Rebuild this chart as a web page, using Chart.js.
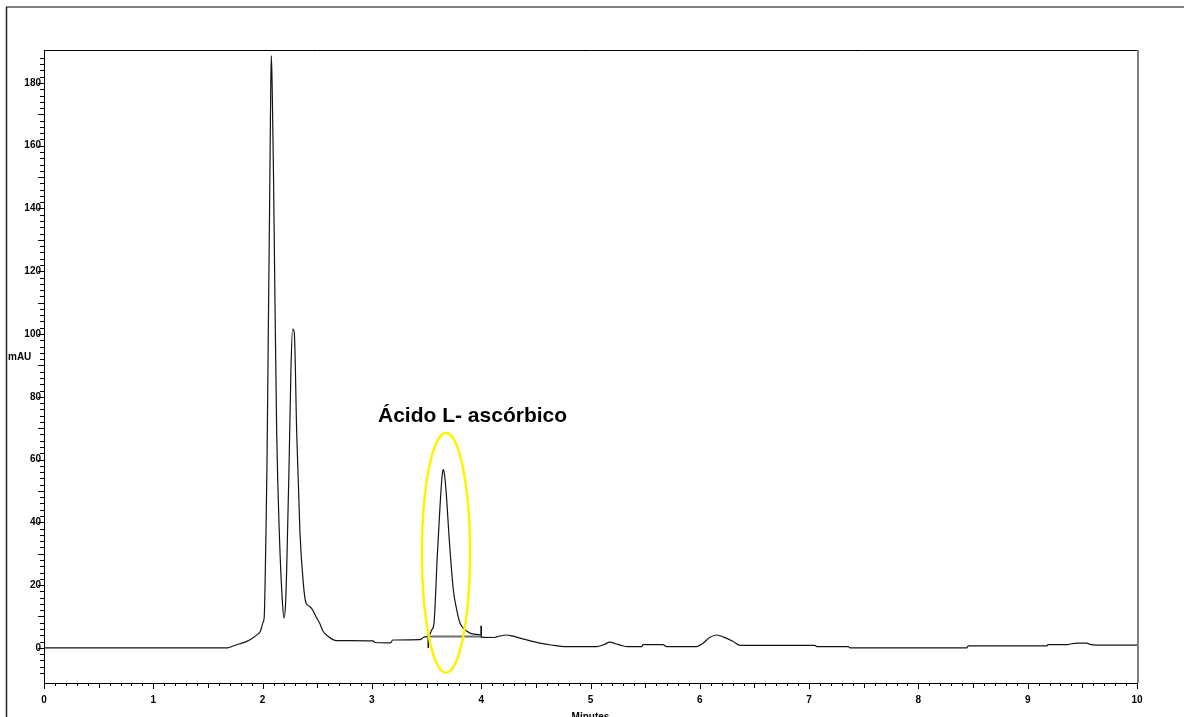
<!DOCTYPE html>
<html>
<head>
<meta charset="utf-8">
<title>Cromatograma</title>
<script src="https://cdn.jsdelivr.net/npm/chart.js@4.4.1/dist/chart.umd.min.js"></script>
<style>
  html, body { margin: 0; padding: 0; background: #fff; }
  canvas { display: block; }
</style>
</head>
<body>
<canvas id="chrom" width="1184" height="717"></canvas>
<script>
// retention time (min) and detector response (mAU)
const retTime = [
    0, 1.68, 1.73, 1.79, 1.85, 1.90, 1.95, 1.98, 2.005, 2.015,
    2.03, 2.04, 2.052, 2.065, 2.075, 2.08, 2.088, 2.100, 2.113, 2.129,
    2.153, 2.180, 2.196, 2.21, 2.221, 2.242, 2.260, 2.275, 2.290, 2.312,
    2.342, 2.372, 2.397, 2.43, 2.46, 2.49, 2.52, 2.555, 2.601,
    2.64, 2.678, 3.01, 3.03, 3.17, 3.19, 3.44, 3.47, 3.50, 3.516,
    3.547, 3.568, 3.598, 3.623, 3.643, 3.653, 3.665, 3.678, 3.708, 3.745,
    3.776, 3.806, 3.836, 3.897, 3.95, 3.99, 4.0, 4.108, 4.15, 4.233,
    4.28, 4.355, 4.45, 4.538, 4.64, 4.782, 5.057, 5.12, 5.178, 5.23,
    5.28, 5.34, 5.47, 5.48, 5.663, 5.697, 5.972, 6.03, 6.09, 6.155,
    6.22, 6.306, 6.368, 7.054, 7.07, 7.359, 7.374, 8.442, 8.457, 9.174,
    9.186, 9.357, 9.40, 9.46, 9.54, 9.57, 9.631, 10
];
const mAU = [
    0, 0, 0.6, 1.3, 2.0, 2.9, 4.2, 5.3, 8.2, 10,
    35, 58, 100, 144, 180, 188.7, 178, 150, 111, 68.5,
    36.6, 15.3, 9.5, 14, 25.9, 57.8, 89.6, 101.6, 100.4, 68.5,
    36.6, 20.7, 14.3, 13.2, 12.0, 9.8, 8.0, 5.2, 3.6,
    2.7, 2.3, 2.2, 1.7, 1.6, 2.5, 2.6, 3.3, 3.6, 3.6,
    5.7, 7.9, 29.1, 45, 55, 56.9, 55, 50.3, 34.4, 18.5,
    12.1, 7.9, 6.3, 4.7, 4.3, 4.1, 3.4, 3.3, 3.6, 4.1,
    3.8, 3.1, 2.2, 1.5, 0.9, 0.4, 0.4, 1.0, 1.8, 1.3,
    0.8, 0.4, 0.4, 1.0, 1.0, 0.4, 0.4, 1.5, 3.3, 4.1,
    3.4, 2.0, 0.8, 0.8, 0.4, 0.4, 0, 0, 0.6, 0.6,
    1.0, 1.0, 1.3, 1.5, 1.5, 1.1, 0.85, 0.85
];

// integration baseline under the ascorbic acid peak, with start/end marks
const baseTime = [3.516, 4.0];
const baseLevel = [3.6, 3.6];
const startMark = [5.2, 0];
const endMark = [7.0, 3.4];

const peakLabel = 'Ácido L- ascórbico';
const labelAt = [3.056, 72];        // min, mAU
const ringCenter = [3.678, 30.3];
const ringRadius = [0.22, 38.2];

const FONT = '"Liberation Sans", Arial, Helvetica, sans-serif';

const decor = {
    id: 'decor',
    beforeDraw(chart) {
        const ctx = chart.ctx;
        ctx.save();
        ctx.fillStyle = '#fff';
        ctx.fillRect(0, 0, chart.width, chart.height);
        // page frame
        ctx.strokeStyle = '#808080';
        ctx.lineWidth = 2;
        ctx.beginPath();
        ctx.moveTo(6, 7);
        ctx.lineTo(chart.width, 7);
        ctx.stroke();
        ctx.strokeStyle = '#222';
        ctx.lineWidth = 1.5;
        ctx.beginPath();
        ctx.moveTo(6.5, 7);
        ctx.lineTo(6.5, chart.height);
        ctx.stroke();
        ctx.restore();
    },
    afterDatasetsDraw(chart) {
        const {ctx, scales: {x, y}} = chart;
        ctx.save();
        const cx = x.getPixelForValue(ringCenter[0]);
        const cy = y.getPixelForValue(ringCenter[1]);
        const rx = x.getPixelForValue(ringCenter[0] + ringRadius[0]) - cx;
        const ry = cy - y.getPixelForValue(ringCenter[1] + ringRadius[1]);
        ctx.strokeStyle = '#fff200';
        ctx.lineWidth = 2.5;
        ctx.beginPath();
        ctx.ellipse(cx, cy, rx, ry, 0, 0, Math.PI * 2);
        ctx.stroke();

        ctx.fillStyle = '#000';
        ctx.font = 'bold 21px ' + FONT;
        ctx.textAlign = 'left';
        ctx.textBaseline = 'alphabetic';
        ctx.fillText(peakLabel, x.getPixelForValue(labelAt[0]), y.getPixelForValue(labelAt[1]));
        ctx.restore();
    },
    afterDraw(chart) {
        const {ctx, chartArea: a, scales: {x, y}} = chart;
        ctx.save();
        ctx.lineWidth = 1;
        ctx.strokeStyle = '#000';
        ctx.beginPath();
        // top edge of the plot box
        ctx.moveTo(a.left, Math.round(a.top) + 0.5);
        ctx.lineTo(a.right, Math.round(a.top) + 0.5);
        // tick marks: minor every 0.1 min / 2 mAU
        x.ticks.forEach(t => {
            const k = Math.round(t.value * 10);
            const len = k % 10 === 0 ? 6 : (k % 5 === 0 ? 5 : 3);
            const px = Math.round(x.getPixelForValue(t.value)) + 0.5;
            ctx.moveTo(px, a.bottom);
            ctx.lineTo(px, a.bottom + len);
        });
        y.ticks.forEach(t => {
            const k = Math.round(t.value);
            if (Math.abs(t.value - k) > 1e-6 || k % 2 !== 0) return;
            const len = k % 10 === 0 ? 6 : 4;
            const py = Math.round(y.getPixelForValue(t.value)) + 0.5;
            ctx.moveTo(a.left, py);
            ctx.lineTo(a.left - len, py);
        });
        ctx.stroke();

        // right edge in grey
        ctx.strokeStyle = '#808080';
        ctx.lineWidth = 2;
        ctx.beginPath();
        ctx.moveTo(a.right + 1, a.top);
        ctx.lineTo(a.right + 1, a.bottom);
        ctx.stroke();

        // axis titles
        ctx.fillStyle = '#000';
        ctx.font = 'bold 10px ' + FONT;
        ctx.textBaseline = 'middle';
        ctx.textAlign = 'left';
        ctx.fillText('mAU', 8, 357);
        ctx.textAlign = 'center';
        ctx.fillText('Minutes', (a.left + a.right) / 2, 717);
        ctx.restore();
    }
};

new Chart(document.getElementById('chrom'), {
    type: 'line',
    data: {
        datasets: [
            {
                data: baseTime.map((t, i) => ({x: t, y: baseLevel[i]})),
                borderColor: '#6e6e6e',
                borderWidth: 2,
                pointRadius: 0
            },
            {
                data: startMark.map(v => ({x: baseTime[0], y: v})),
                borderColor: '#111',
                borderWidth: 1,
                pointRadius: 0
            },
            {
                data: endMark.map(v => ({x: baseTime[1], y: v})),
                borderColor: '#111',
                borderWidth: 1,
                pointRadius: 0
            },
            {
                data: retTime.map((t, i) => ({x: t, y: mAU[i]})),
                borderColor: '#141414',
                borderWidth: 1.2,
                pointRadius: 0,
                cubicInterpolationMode: 'monotone'
            }
        ]
    },
    options: {
        responsive: false,
        animation: false,
        devicePixelRatio: 1,
        layout: { padding: { top: 50, right: 47, left: 0, bottom: 0 } },
        plugins: { legend: { display: false }, tooltip: { enabled: false } },
        scales: {
            x: {
                type: 'linear',
                min: 0,
                max: 10,
                grid: { display: false, drawTicks: false },
                border: { display: true, color: '#000', width: 1 },
                ticks: {
                    stepSize: 0.1,
                    autoSkip: false,
                    maxRotation: 0,
                    padding: 11,
                    color: '#000',
                    font: { family: FONT, size: 10, weight: 'bold' },
                    callback: v => Math.abs(v - Math.round(v)) < 1e-6 ? String(Math.round(v)) : ''
                },
                afterFit: s => { s.height = 34; }
            },
            y: {
                min: -11.2,
                max: 190.5,
                grid: { display: false, drawTicks: false },
                border: { display: true, color: '#000', width: 1 },
                ticks: {
                    stepSize: 2,
                    autoSkip: false,
                    padding: 3,
                    color: '#000',
                    font: { family: FONT, size: 10, weight: 'bold' },
                    callback: v => {
                        const k = Math.round(v);
                        return Math.abs(v - k) < 1e-6 && k % 20 === 0 ? String(k) : '';
                    }
                },
                afterFit: s => { s.width = 44; }
            }
        }
    },
    plugins: [decor]
});
</script>
</body>
</html>
